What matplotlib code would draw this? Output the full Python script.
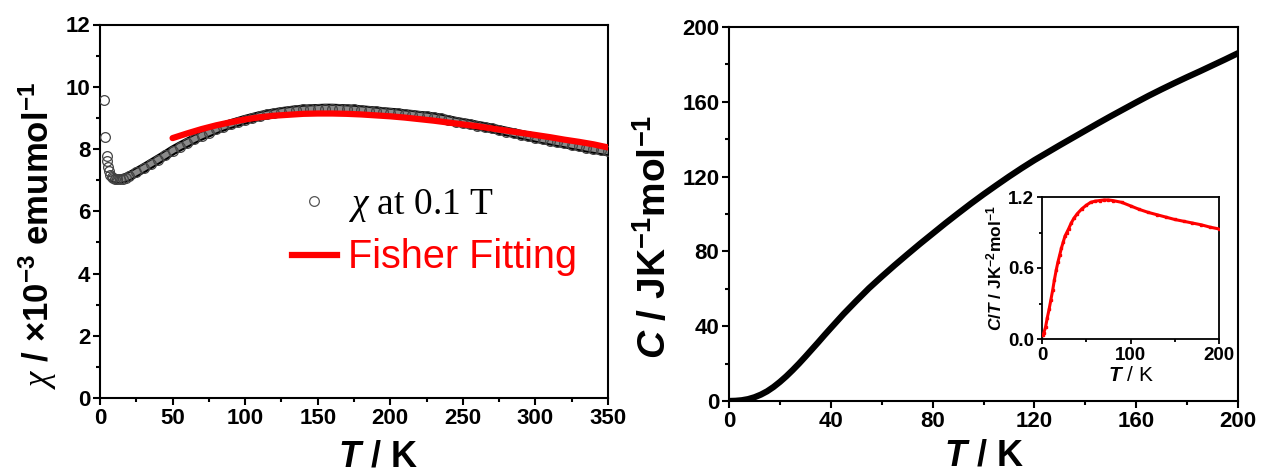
import numpy as np
import matplotlib
matplotlib.use("Agg")
import matplotlib.pyplot as plt
from matplotlib.ticker import MultipleLocator, FormatStrFormatter
from matplotlib.lines import Line2D

plt.rcParams['font.family'] = ['Liberation Sans', 'DejaVu Sans']
plt.rcParams['mathtext.fontset'] = 'custom'
plt.rcParams['mathtext.rm'] = 'Liberation Sans:bold'
plt.rcParams['mathtext.bf'] = 'Liberation Sans:bold'
plt.rcParams['mathtext.it'] = 'Liberation Sans:italic:bold'
plt.rcParams['mathtext.sf'] = 'Liberation Serif:italic'

# ---- susceptibility data (chi, x10^-3 emu/mol) ----
chi_T = [2.5, 3.5, 4.5, 5, 5.5, 6, 7, 8, 9, 10, 12, 14, 16, 18, 20, 25, 30, 35, 40, 45,
         50, 55, 60, 65, 70, 75, 80, 85, 90, 95, 100, 105, 110, 115, 120, 125, 130, 135,
         140, 145, 150, 155, 160, 165, 170, 175, 180, 185, 190, 195, 200, 205, 210, 215,
         220, 225, 230, 235, 240, 245, 250, 255, 260, 265, 270, 275, 280, 285, 290, 295,
         300, 305, 310, 315, 320, 325, 330, 335, 340, 345, 350]
chi_val = [9.57, 8.38, 7.78, 7.6, 7.42, 7.3, 7.18, 7.11, 7.07, 7.05, 7.03, 7.03, 7.05, 7.08,
           7.12, 7.25, 7.38, 7.52, 7.66, 7.8, 7.95, 8.08, 8.2, 8.32, 8.43, 8.53, 8.63, 8.72,
           8.8, 8.87, 8.94, 9.0, 9.06, 9.11, 9.15, 9.19, 9.22, 9.25, 9.27, 9.28, 9.29, 9.3,
           9.3, 9.29, 9.28, 9.27, 9.25, 9.23, 9.21, 9.19, 9.17, 9.15, 9.12, 9.1, 9.07, 9.05,
           9.02, 8.98, 8.93, 8.88, 8.84, 8.8, 8.75, 8.71, 8.66, 8.61, 8.56, 8.51, 8.46, 8.41,
           8.36, 8.31, 8.27, 8.22, 8.18, 8.13, 8.09, 8.04, 8.0, 7.96, 7.92]

fit_T = [50, 60, 70, 80, 90, 100, 110, 120, 130, 140, 150, 160, 170, 180, 190, 200, 210,
         220, 230, 240, 250, 260, 270, 280, 290, 300, 310, 320, 330, 340, 350]
fit_val = [8.35, 8.5, 8.64, 8.76, 8.86, 8.95, 9.02, 9.07, 9.1, 9.13, 9.14, 9.14, 9.13, 9.11,
           9.08, 9.05, 9.01, 8.96, 8.91, 8.85, 8.79, 8.73, 8.66, 8.59, 8.52, 8.45, 8.38,
           8.3, 8.23, 8.15, 8.05]

# ---- heat capacity ----
C_T = [0, 2.5, 5, 7.5, 10, 12.5, 15, 17.5, 20, 22.5, 25, 27.5, 30, 32.5, 35, 37.5, 40, 45,
       50, 55, 60, 65, 70, 75, 80, 85, 90, 95, 100, 105, 110, 115, 120, 125, 130, 135, 140,
       145, 150, 155, 160, 165, 170, 175, 180, 185, 190, 195, 200]
C_val = [0, 0.1, 0.4, 1.0, 2.0, 3.4, 5.2, 7.5, 10.2, 13.2, 16.5, 20, 23.7, 27.5, 31.3, 35.2,
         39, 46.5, 53.5, 60.3, 66.5, 72.5, 78.3, 84, 89.5, 95, 100.3, 105.5, 110.5, 115.3,
         120, 124.5, 128.8, 132.8, 136.8, 140.7, 144.6, 148.5, 152.3, 156, 159.7, 163.3,
         166.7, 170, 173.2, 176.3, 179.5, 182.7, 186]

# ---- inset C/T ----
CT_T = [1, 2, 4, 6, 8, 10, 12, 14, 16, 18, 20, 22, 24, 26, 28, 30, 33, 36, 40, 45, 50, 55,
        60, 65, 70, 75, 80, 90, 100, 110, 120, 130, 140, 150, 160, 170, 180, 190, 200]
CT_val = [0.03, 0.05, 0.1, 0.18, 0.25, 0.33, 0.41, 0.5, 0.58, 0.65, 0.71, 0.77, 0.82, 0.87,
          0.9, 0.93, 0.98, 1.02, 1.06, 1.1, 1.13, 1.155, 1.165, 1.17, 1.175, 1.175, 1.17,
          1.155, 1.125, 1.095, 1.07, 1.05, 1.03, 1.01, 0.995, 0.98, 0.965, 0.945, 0.93]

W, H = 1263, 475
fig = plt.figure(figsize=(W / 100, H / 100), dpi=100)

def px_axes(x0, x1, y0, y1):
    return fig.add_axes([x0 / W, 1 - y1 / H, (x1 - x0) / W, (y1 - y0) / H])

def style(ax, size, major_len=5, minor_len=3, lw=1.5):
    for s in ax.spines.values():
        s.set_linewidth(lw)
    ax.tick_params(which='major', direction='out', length=major_len, width=lw,
                   labelsize=size, pad=2)
    ax.tick_params(which='minor', direction='out', length=minor_len, width=lw)
    for lab in ax.get_xticklabels() + ax.get_yticklabels():
        lab.set_fontweight('bold')

# ---------------- left panel ----------------
ax1 = px_axes(100, 608, 24.5, 398)
band_T = [t for t in chi_T if t >= 8]
band_v = [v for t, v in zip(chi_T, chi_val) if t >= 8]
ax1.plot(band_T, band_v, color='black', lw=7, zorder=2, solid_capstyle='butt')
ax1.plot(band_T, band_v, color='#8a8a8a', lw=4, zorder=3, solid_capstyle='butt')
ax1.plot(chi_T, chi_val, 'o', ms=7, mfc='none', mec='#444444', mew=0.9, zorder=4)
ax1.plot(fit_T, fit_val, color='red', lw=4.5, zorder=5, solid_capstyle='round')
ax1.set_xlim(0, 350)
ax1.set_ylim(0, 12)
ax1.xaxis.set_major_locator(MultipleLocator(50))
ax1.xaxis.set_minor_locator(MultipleLocator(25))
ax1.yaxis.set_major_locator(MultipleLocator(2))
ax1.yaxis.set_minor_locator(MultipleLocator(1))
style(ax1, 16)
ax1.set_xlabel(r'$T$ / K', fontsize=26, fontweight='bold')
ax1.xaxis.set_label_coords(0.547, -0.11)
ax1.set_ylabel(r'$\mathsf{\chi}$ / ×10$^{-3}$ emumol$^{-1}$', fontsize=25,
               fontweight='bold')
ax1.yaxis.set_label_coords(-0.08, 0.436)

handles = [Line2D([], [], ls='none', marker='o', ms=7, mfc='none', mec='#555555', mew=0.9),
           Line2D([], [], color='red', lw=4.5)]
leg = ax1.legend(handles, [r'$\mathsf{\chi}$ at 0.1 T', 'Fisher Fitting'],
                 loc='upper left', bbox_to_anchor=(0.341, 0.616), frameon=False,
                 prop={'family': 'Liberation Serif', 'size': 27},
                 handlelength=1.2, handletextpad=0.3, labelspacing=0.38, borderpad=0)
t2 = leg.get_texts()[1]
t2.set_color('red')
t2.set_fontfamily('Liberation Sans')
t2.set_fontsize(28.5)

# ---------------- right panel ----------------
ax2 = px_axes(729, 1238, 27, 401)
ax2.plot(C_T, C_val, color='black', lw=4.5, solid_capstyle='round', zorder=3)
ax2.set_xlim(0, 200)
ax2.set_ylim(0, 200)
ax2.xaxis.set_major_locator(MultipleLocator(40))
ax2.xaxis.set_minor_locator(MultipleLocator(20))
ax2.yaxis.set_major_locator(MultipleLocator(40))
ax2.yaxis.set_minor_locator(MultipleLocator(20))
style(ax2, 16)
ax2.set_xlabel(r'$T$ / K', fontsize=26, fontweight='bold')
ax2.xaxis.set_label_coords(0.5, -0.1)
ax2.set_ylabel(r'$C$ / JK$^{-1}$mol$^{-1}$', fontsize=28, fontweight='bold')
ax2.yaxis.set_label_coords(-0.108, 0.44)

# ---------------- inset ----------------
ax3 = px_axes(1042, 1219, 197, 339)
ax3.plot(CT_T, CT_val, color='red', lw=2.2, zorder=3)
ax3.plot(CT_T, CT_val, 's', color='red', ms=1.8, zorder=4)
ax3.set_xlim(0, 200)
ax3.set_ylim(0, 1.2)
ax3.xaxis.set_major_locator(MultipleLocator(100))
ax3.xaxis.set_minor_locator(MultipleLocator(50))
ax3.yaxis.set_major_locator(MultipleLocator(0.6))
ax3.yaxis.set_minor_locator(MultipleLocator(0.3))
ax3.yaxis.set_major_formatter(FormatStrFormatter('%.1f'))
style(ax3, 13.5, major_len=3.5, minor_len=2, lw=1.3)
ax3.set_xlabel(r'$T$ / K', fontsize=15, labelpad=2)
ax3.set_ylabel(r'$C/T$ / JK$^{-2}$mol$^{-1}$', fontsize=12.5, fontweight='bold', labelpad=3)

fig.savefig('out.png', dpi=100)
